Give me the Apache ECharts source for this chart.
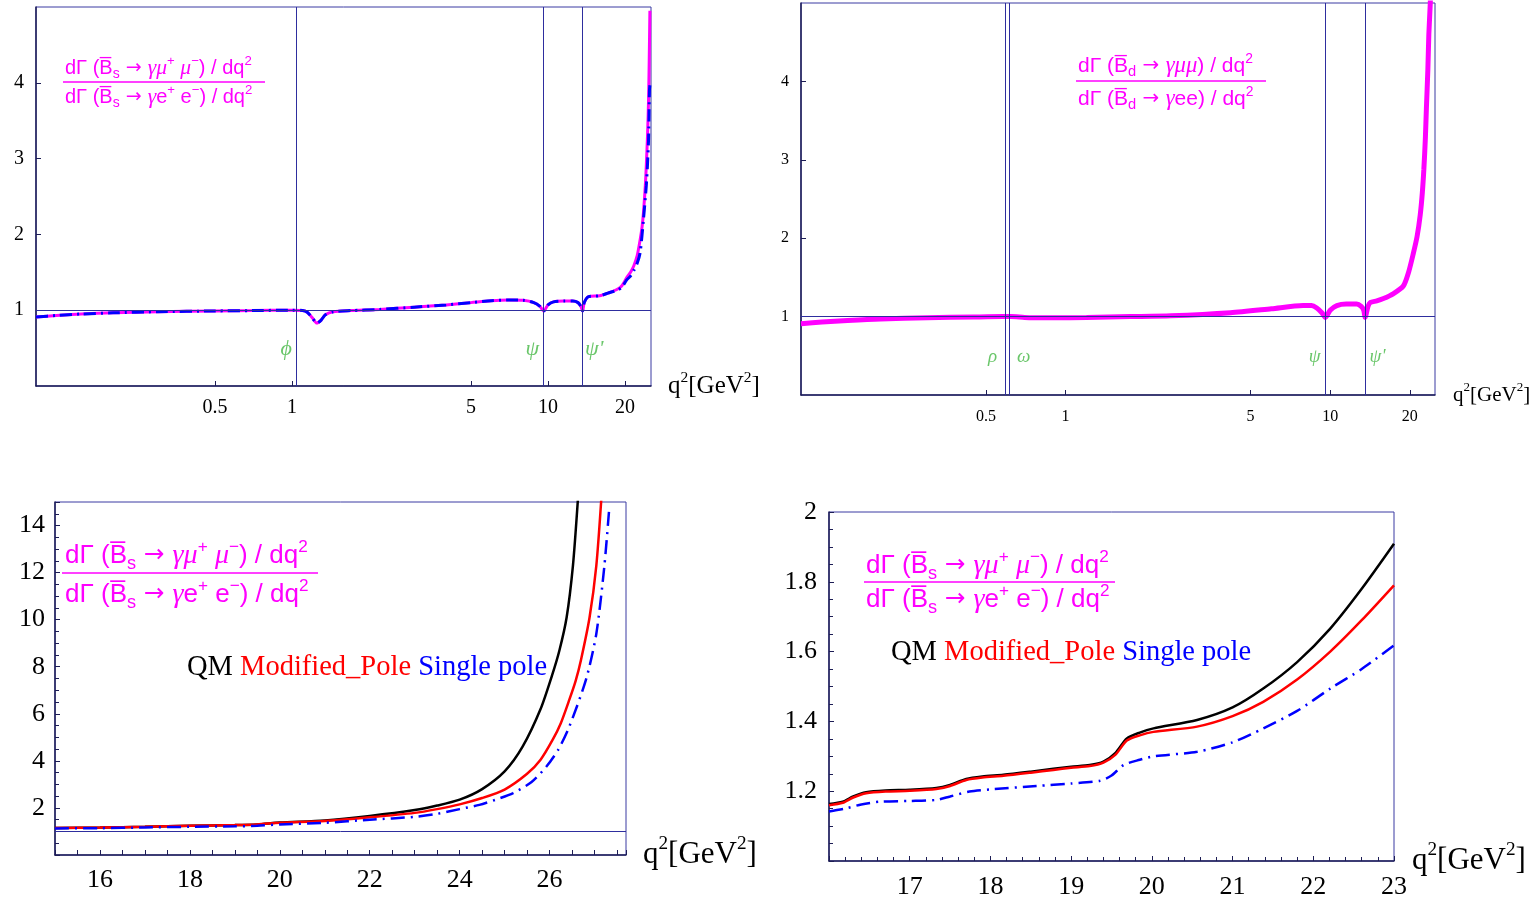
<!DOCTYPE html>
<html><head><meta charset="utf-8">
<script src="https://cdn.jsdelivr.net/npm/echarts@6/dist/echarts.min.js"></script>
<style>html,body{margin:0;padding:0;background:#fff}#c{width:1533px;height:901px}</style>
</head><body><div id="c"></div>
<script>
// ---------------- DATA ----------------
// Panel 1 (top-left): B_s ratio, log q2 axis
const bsMuTop = [[0.1,0.91],[0.12,0.93],[0.15,0.95],[0.2,0.965],[0.3,0.98],[0.5,0.99],[0.7,0.995],[1.0,1.0],[1.1,0.995],[1.15,0.97],[1.2,0.9],[1.25,0.83],[1.3,0.87],[1.35,0.94],[1.45,0.98],[1.7,0.995],[2.2,1.01],[3,1.04],[4,1.07],[5,1.1],[6,1.125],[7,1.135],[8,1.13],[8.8,1.1],[9.3,1.05],[9.62,0.99],[10.0,1.07],[10.5,1.11],[11.5,1.12],[12.5,1.12],[13.1,1.1],[13.45,1.05],[13.65,0.99],[13.85,1.1],[14.4,1.18],[15.9,1.19],[17.3,1.23],[18.5,1.27],[19.4,1.32],[20.3,1.43],[21.0,1.5],[21.6,1.58],[22.3,1.72],[22.9,1.93],[23.3,2.1],[23.6,2.29],[24.0,2.65],[24.2,2.9],[24.5,3.35],[24.7,3.78],[24.85,4.3],[25.0,4.95]];
const bsSingleTop = [[0.1,0.91],[0.12,0.93],[0.15,0.95],[0.2,0.965],[0.3,0.98],[0.5,0.99],[0.7,0.995],[1.0,1.0],[1.1,0.995],[1.15,0.97],[1.2,0.9],[1.25,0.83],[1.3,0.87],[1.35,0.94],[1.45,0.98],[1.7,0.995],[2.2,1.01],[3,1.04],[4,1.07],[5,1.1],[6,1.125],[7,1.135],[8,1.13],[8.8,1.1],[9.3,1.05],[9.62,0.99],[10.0,1.07],[10.5,1.11],[11.5,1.12],[12.5,1.12],[13.1,1.1],[13.45,1.05],[13.65,0.99],[13.85,1.1],[14.4,1.18],[15.9,1.19],[17.3,1.23],[18.5,1.26],[19.4,1.3],[20.3,1.4],[21.0,1.45],[21.6,1.52],[22.3,1.62],[22.9,1.76],[23.6,2.2],[24.2,2.64],[24.45,2.9],[24.7,3.25],[24.9,3.9],[25.0,3.97]];
const resTopLeftNames = ['ϕ', 'ψ', "ψ'"];
const resTopLeftQ2 = [1.04, 9.62, 13.65];

// Panel 2 (top-right): B_d ratio, log q2 axis
const bdRatioTop = [[0.1,0.91],[0.12,0.93],[0.15,0.95],[0.2,0.97],[0.3,0.985],[0.45,0.995],[0.58,1.0],[0.62,1.0],[0.7,0.99],[0.8,0.985],[0.9,0.985],[1.2,0.99],[1.76,1.0],[2.5,1.01],[4.2,1.05],[6,1.1],[7.9,1.14],[8.5,1.14],[8.9,1.11],[9.3,1.05],[9.6,0.99],[10.0,1.08],[10.6,1.14],[11.5,1.16],[12.6,1.16],[13.1,1.13],[13.4,1.08],[13.55,0.99],[13.9,1.13],[14.2,1.18],[15,1.2],[15.9,1.23],[17.3,1.29],[18.9,1.39],[19.8,1.57],[20.6,1.8],[21.3,2.02],[21.9,2.3],[22.3,2.58],[22.6,2.88],[22.9,3.28],[23.1,3.65],[23.4,4.15],[23.6,4.6],[23.9,5.0],[24.1,5.4]];
const resTopRightNames = ['ρ', 'ω', 'ψ', "ψ'"];
const resTopRightQ2 = [0.594, 0.609, 9.57, 13.55];

// Panel 3 (bottom-left): three form-factor models, q2 15..27.7
const qmWide = [[15,1.15],[16,1.17],[17,1.2],[18,1.24],[19,1.27],[19.5,1.3],[20,1.38],[21,1.47],[22,1.66],[23,1.91],[23.5,2.1],[24,2.35],[24.5,2.8],[25,3.55],[25.4,4.6],[25.8,6.2],[26.05,7.6],[26.22,8.7],[26.38,10.1],[26.52,12.3],[26.63,15.1]];
const modPoleWide = [[15,1.15],[16,1.17],[17,1.2],[18,1.24],[19,1.27],[19.5,1.3],[20,1.37],[21,1.44],[22,1.6],[23,1.79],[23.5,1.95],[24,2.15],[24.5,2.42],[25,2.78],[25.5,3.45],[25.8,4.05],[26.07,4.9],[26.25,5.6],[26.44,6.6],[26.58,7.4],[26.7,8.3],[26.89,10.1],[27.04,12.3],[27.15,15.1]];
const singlePoleWide = [[15,1.13],[16,1.14],[17,1.17],[18,1.2],[19,1.22],[19.5,1.24],[20,1.3],[21,1.37],[22,1.5],[23,1.62],[23.5,1.75],[24,1.95],[24.44,2.13],[24.8,2.35],[25.19,2.63],[25.6,3.1],[25.93,3.76],[26.2,4.5],[26.44,5.46],[26.81,7.45],[27.04,9.4],[27.22,12.3],[27.33,14.8]];

// Panel 4 (bottom-right): zoom 16..23
const qmZoom = [[16.0,1.163],[16.17,1.17],[16.3,1.185],[16.46,1.197],[16.7,1.202],[17.0,1.204],[17.33,1.209],[17.5,1.218],[17.7,1.235],[17.9,1.242],[18.16,1.247],[18.5,1.256],[18.78,1.264],[19.0,1.27],[19.23,1.275],[19.4,1.285],[19.55,1.31],[19.69,1.351],[19.85,1.368],[20.02,1.38],[20.56,1.404],[21.0,1.44],[21.38,1.494],[21.8,1.57],[22.21,1.666],[22.6,1.78],[23.0,1.909]];
const modPoleZoom = [[16.0,1.16],[16.17,1.167],[16.3,1.182],[16.46,1.194],[16.7,1.199],[17.0,1.201],[17.33,1.206],[17.5,1.215],[17.7,1.232],[17.9,1.239],[18.16,1.244],[18.5,1.253],[18.78,1.261],[19.0,1.267],[19.23,1.272],[19.4,1.282],[19.55,1.305],[19.69,1.345],[19.85,1.36],[20.02,1.37],[20.56,1.385],[21.0,1.415],[21.38,1.456],[21.8,1.52],[22.21,1.6],[22.6,1.69],[23.0,1.79]];
const singlePoleZoom = [[16.0,1.142],[16.2,1.15],[16.4,1.162],[16.63,1.17],[17.0,1.172],[17.33,1.175],[17.5,1.185],[17.74,1.199],[18.0,1.205],[18.57,1.215],[19.0,1.222],[19.36,1.23],[19.5,1.245],[19.65,1.275],[19.85,1.29],[20.02,1.3],[20.56,1.313],[21.0,1.34],[21.38,1.38],[21.8,1.43],[22.21,1.494],[22.6,1.55],[23.0,1.618]];

// Tick labels
const topXTicks = [0.5, 1, 5, 10, 20];
const topYTicks = [1, 2, 3, 4];
const wideXTicks = [16, 18, 20, 22, 24, 26];
const wideYTicks = [2, 4, 6, 8, 10, 12, 14];
const zoomXTicks = [17, 18, 19, 20, 21, 22, 23];
const zoomYTicks = [1.2, 1.4, 1.6, 1.8, 2];
const legendNames = ['QM', 'Modified_Pole', 'Single pole'];

// ---------------- STYLE ----------------
const MAG = '#ff00ff', GREEN = '#45b845', REF = '#2e2e9e', AXIS = '#1d1d55', FRAME = '#3a3aa2';
const SERIF = 'Liberation Serif', SANS = 'Liberation Sans';

const chart = echarts.init(document.getElementById('c'), null, {renderer: 'canvas'});

function nameStyle(fs) {
  return {
    fontFamily: SERIF, fontSize: fs, color: '#000',
    rich: {
      m: {fontFamily: SERIF, fontSize: fs, color: '#000', lineHeight: fs * 1.3},
      s: {fontFamily: SERIF, fontSize: fs * 0.62, color: '#000', verticalAlign: 'top', lineHeight: fs * 0.62}
    }
  };
}
const qName = '{m|q}{s|2}{m|[GeV}{s|2}{m|]}';

function logX(idx, min, max, fs, nfs, gap, margin) {
  return {
    type: 'log', logBase: 10, gridIndex: idx, min: min, max: max,
    name: qName, nameLocation: 'end', nameGap: gap, nameTextStyle: nameStyle(nfs),
    axisLine: {show: true, lineStyle: {color: AXIS, width: 1.5}},
    axisTick: {show: true, inside: true, length: 5, customValues: topXTicks, lineStyle: {color: AXIS}},
    axisLabel: {customValues: topXTicks, fontFamily: SERIF, fontSize: fs, color: '#000', margin: margin},
    splitLine: {show: false}, minorTick: {show: false}
  };
}
function topY(idx, fs) {
  return {
    type: 'value', gridIndex: idx, min: 0, max: 5, interval: 1,
    axisLine: {show: true, lineStyle: {color: AXIS, width: 1.5}},
    axisTick: {show: true, inside: true, length: 5, customValues: topYTicks, lineStyle: {color: AXIS}},
    axisLabel: {customValues: topYTicks, fontFamily: SERIF, fontSize: fs, color: '#000', margin: 12},
    splitLine: {show: false}
  };
}

function refLines(q2s) {
  const d = [{yAxis: 1}];
  q2s.forEach(v => d.push({xAxis: v}));
  return {silent: true, symbol: 'none', label: {show: false}, lineStyle: {color: REF, width: 1, type: 'solid'}, data: d};
}
function resLabels(xi, names, q2s, sides, fs, dist) {
  return {
    type: 'scatter', xAxisIndex: xi, yAxisIndex: xi, symbolSize: 1, itemStyle: {color: 'rgba(0,0,0,0)'}, silent: true,
    data: names.map((n, i) => ({
      value: [q2s[i], 0.48],
      label: {show: true, formatter: n, position: sides[i], distance: dist[i],
        fontFamily: SERIF, fontStyle: 'italic', fontSize: fs, color: GREEN}
    }))
  };
}

function line(xi, data, color, width, type, z) {
  return {
    type: 'line', xAxisIndex: xi, yAxisIndex: xi, data: data, showSymbol: false, symbol: 'none',
    smooth: 0.25, clip: true, z: z || 2,
    lineStyle: {color: color, width: width, type: type || 'solid'}
  };
}

// fraction annotation
function fraction(x, yNum, yBar, yDen, barX1, barX2, fs, num, den) {
  const rich = {
    n: {fontFamily: SANS, fontSize: fs, fill: MAG, lineHeight: fs * 1.3},
    a: {fontFamily: 'DejaVu Sans', fontSize: fs * 0.95, fill: MAG, lineHeight: fs * 1.3},
    g: {fontFamily: SERIF, fontStyle: 'italic', fontSize: fs * 1.08, fill: MAG, lineHeight: fs * 1.3},
    sub: {fontFamily: SANS, fontSize: fs * 0.7, fill: MAG, verticalAlign: 'bottom', lineHeight: fs * 0.75},
    sup: {fontFamily: SANS, fontSize: fs * 0.66, fill: MAG, verticalAlign: 'top', lineHeight: fs * 0.66}
  };
  return [
    {type: 'text', x: x, y: yNum, silent: true, style: {text: num, rich: rich, align: 'left', verticalAlign: 'middle', fill: MAG, font: fs + 'px ' + SANS}},
    {type: 'line', silent: true, shape: {x1: barX1, y1: yBar, x2: barX2, y2: yBar}, style: {stroke: MAG, lineWidth: 1.3}},
    {type: 'text', x: x, y: yDen, silent: true, style: {text: den, rich: rich, align: 'left', verticalAlign: 'middle', fill: MAG, font: fs + 'px ' + SANS}}
  ];
}
const B = 'B\u0305';
const numBsMu = '{n|dΓ (' + B + '}{sub|s}{a| → }{g|γμ}{sup|+}{n| }{g|μ}{sup|−}{n|) / dq}{sup|2}';
const denBsE  = '{n|dΓ (' + B + '}{sub|s}{a| → }{g|γ}{n|e}{sup|+}{n| e}{sup|−}{n|) / dq}{sup|2}';
const numBdMu = '{n|dΓ (' + B + '}{sub|d}{a| → }{g|γμμ}{n|) / dq}{sup|2}';
const denBdE  = '{n|dΓ (' + B + '}{sub|d}{a| → }{g|γ}{n|ee) / dq}{sup|2}';

function legend(x, y, fs) {
  return {type: 'text', x: x, y: y, silent: true, style: {
    text: '{k|' + legendNames[0] + '} {r|' + legendNames[1] + '} {b|' + legendNames[2] + '}',
    align: 'left', verticalAlign: 'middle', font: fs + 'px ' + SERIF, fill: '#000',
    rich: {k: {fontFamily: SERIF, fontSize: fs, fill: '#000000'}, r: {fontFamily: SERIF, fontSize: fs, fill: '#ff0000'}, b: {fontFamily: SERIF, fontSize: fs, fill: '#0000ff'}}
  }};
}

const gridBase = {show: true, borderColor: FRAME, borderWidth: 1, backgroundColor: 'transparent', containLabel: false};

const option = {
  animation: false,
  backgroundColor: '#fff',
  grid: [
    Object.assign({left: 36, top: 7, width: 615, height: 379}, gridBase),
    Object.assign({left: 801, top: 3, width: 634, height: 392}, gridBase),
    Object.assign({left: 55, top: 502, width: 571, height: 353}, gridBase),
    Object.assign({left: 829, top: 512, width: 565, height: 349}, gridBase)
  ],
  xAxis: [
    logX(0, 0.1, 25.25, 20, 25, 17, 12),
    logX(1, 0.1, 24.9, 16, 21, 18, 14),
    {
      type: 'value', gridIndex: 2, min: 15, max: 27.7, interval: 1,
      name: qName, nameLocation: 'end', nameGap: 17, nameTextStyle: nameStyle(31),
      axisLine: {show: true, lineStyle: {color: AXIS, width: 1.5}},
      axisTick: {show: true, inside: true, length: 5, lineStyle: {color: AXIS}},
      minorTick: {show: true, splitNumber: 2, length: 5, lineStyle: {color: AXIS}},
      axisLabel: {customValues: wideXTicks, fontFamily: SERIF, fontSize: 26, color: '#000', margin: 12},
      splitLine: {show: false}
    },
    {
      type: 'value', gridIndex: 3, min: 16, max: 23, interval: 1,
      name: qName, nameLocation: 'end', nameGap: 18, nameTextStyle: nameStyle(31),
      axisLine: {show: true, lineStyle: {color: AXIS, width: 1.5}},
      axisTick: {show: true, inside: true, length: 5, lineStyle: {color: AXIS}},
      minorTick: {show: true, splitNumber: 5, length: 4, lineStyle: {color: AXIS}},
      axisLabel: {customValues: zoomXTicks, fontFamily: SERIF, fontSize: 26, color: '#000', margin: 13},
      splitLine: {show: false}
    }
  ],
  yAxis: [
    topY(0, 20),
    topY(1, 16),
    {
      type: 'value', gridIndex: 2, min: 0, max: 15, interval: 2,
      axisLine: {show: true, lineStyle: {color: AXIS, width: 1.5}},
      axisTick: {show: true, inside: true, length: 5, lineStyle: {color: AXIS}},
      minorTick: {show: true, splitNumber: 4, length: 4, lineStyle: {color: AXIS}},
      axisLabel: {customValues: wideYTicks, fontFamily: SERIF, fontSize: 26, color: '#000', margin: 10},
      splitLine: {show: false}
    },
    {
      type: 'value', gridIndex: 3, min: 1, max: 2, interval: 0.2,
      axisLine: {show: true, lineStyle: {color: AXIS, width: 1.5}},
      axisTick: {show: true, inside: true, length: 5, lineStyle: {color: AXIS}},
      minorTick: {show: true, splitNumber: 4, length: 4, lineStyle: {color: AXIS}},
      axisLabel: {customValues: zoomYTicks, fontFamily: SERIF, fontSize: 26, color: '#000', margin: 12},
      splitLine: {show: false}
    }
  ],
  series: [
    Object.assign(line(0, bsMuTop, MAG, 3, 'solid', 2), {markLine: refLines(resTopLeftQ2)}),
    line(0, bsSingleTop, '#0000ff', 3, [12, 5, 2, 5], 3),
    resLabels(0, resTopLeftNames, resTopLeftQ2, ['left', 'left', 'right'], 22, [4, 4, 2]),

    Object.assign(line(1, bdRatioTop, MAG, 5, 'solid', 2), {markLine: refLines(resTopRightQ2)}),
    resLabels(1, resTopRightNames, resTopRightQ2, ['left', 'right', 'left', 'right'], 19, [8, 8, 4, 4]),

    Object.assign(line(2, qmWide, '#000000', 2.5, 'solid', 2), {markLine: {silent: true, symbol: 'none', label: {show: false}, lineStyle: {color: REF, width: 1, type: 'solid'}, data: [{yAxis: 1}]}}),
    line(2, modPoleWide, '#ff0000', 2.5, 'solid', 3),
    line(2, singlePoleWide, '#0000ff', 2.5, [14, 6, 2, 6], 4),

    line(3, qmZoom, '#000000', 2.5, 'solid', 2),
    line(3, modPoleZoom, '#ff0000', 2.5, 'solid', 3),
    line(3, singlePoleZoom, '#0000ff', 2.5, [14, 6, 2, 6], 4)
  ],
  graphic: [].concat(
    fraction(65, 68, 82, 97, 63, 265, 20, numBsMu, denBsE),
    fraction(1078, 66, 81, 99, 1076, 1266, 21, numBdMu, denBdE),
    fraction(65, 556, 573, 595, 62, 318, 26, numBsMu, denBsE),
    fraction(866, 566, 582, 600, 864, 1115, 26, numBsMu, denBsE),
    [legend(187, 668, 28.5), legend(891, 653, 28.5)]
  )
};
chart.setOption(option);
</script></body></html>
